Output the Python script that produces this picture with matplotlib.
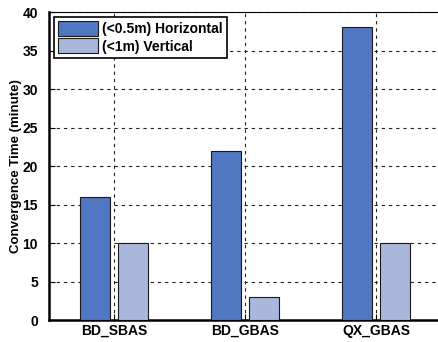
import numpy as np
import matplotlib.pyplot as plt

# Convergence time of each augmentation system, horizontal vs vertical

systems = ['BD_SBAS', 'BD_GBAS', 'QX_GBAS']
horiz = [16, 22, 38]        # (<0.5m) horizontal, minutes
vert = [10, 3, 10]          # (<1m) vertical, minutes

plt.rcParams['font.family'] = 'Liberation Sans'
plt.rcParams['font.weight'] = 'bold'

fig = plt.figure(figsize=(4.39, 3.42), dpi=100)
ax = fig.add_axes([0.1116, 0.0643, 0.8941, 0.9006])

x = np.arange(1, len(systems) + 1)
w = 0.23
ax.bar(x - 0.145, horiz, w, color='#4f77c2', edgecolor='#1a1a1a', linewidth=0.8,
       label='(<0.5m) Horizontal', zorder=3)
ax.bar(x + 0.145, vert, w, color='#a9b7dc', edgecolor='#1a1a1a', linewidth=0.8,
       label='(<1m) Vertical', zorder=3)

ax.set_xlim(0.5, 3.5)
ax.set_ylim(0, 40)
ax.set_xticks(x)
ax.set_xticklabels(systems, fontsize=10, fontweight='bold')
ax.set_yticks(np.arange(0, 41, 5))
ax.tick_params(axis='y', labelsize=10, direction='in', length=4, pad=8)
ax.tick_params(axis='x', direction='in', length=4, pad=3)
for lab in ax.get_yticklabels():
    lab.set_fontweight('bold')
ax.set_ylabel('Convergence Time (minute)', fontsize=9.5, fontweight='bold', labelpad=0)

ax.grid(True, linestyle=(0, (3, 3.5)), color='#222222', linewidth=0.8, zorder=0)
ax.set_axisbelow(True)
for s in ['left', 'bottom']:
    ax.spines[s].set_linewidth(1.8)
ax.spines['top'].set_linewidth(0.8)

leg = ax.legend(loc='upper left', fontsize=10, fancybox=False, framealpha=1,
                edgecolor='black', borderpad=0.3, handlelength=2.9, handleheight=1.3,
                handletextpad=0.3, labelspacing=0.15, borderaxespad=0.35)
leg.get_frame().set_linewidth(1.2)
for t in leg.get_texts():
    t.set_fontweight('bold')

plt.savefig('out.png', dpi=100)
